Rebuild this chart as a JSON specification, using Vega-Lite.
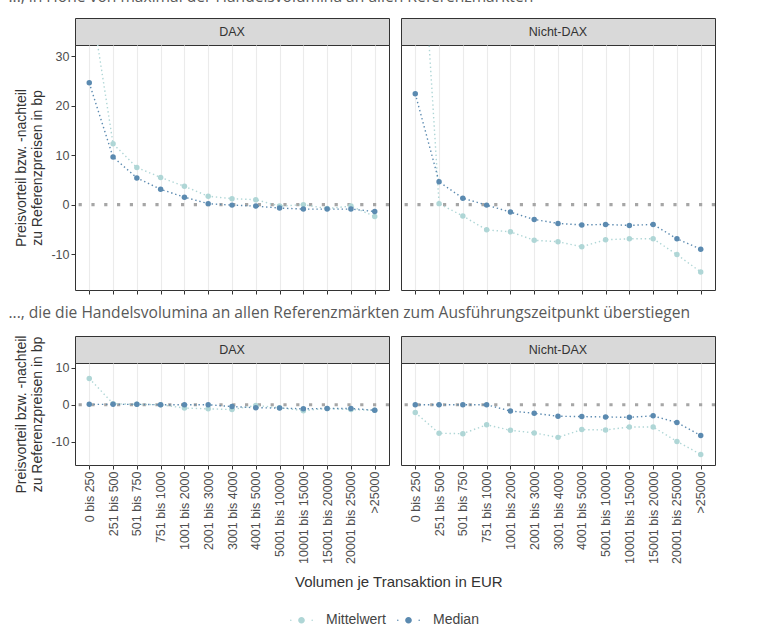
{
"$schema": "https://vega.github.io/schema/vega-lite/v6.json",
"background": "white",
"padding": {"top": -11, "left": 8, "right": 5, "bottom": 3},
"config": {
  "font": "Liberation Sans",
  "view": {"stroke": "#333333", "strokeWidth": 1},
  "axis": {"domain": false, "gridColor": "#ebebeb", "tickColor": "#333333", "tickSize": 4, "tickWidth": 1, "labelColor": "#4d4d4d", "labelFontSize": 12.5, "titleColor": "#333333", "titleFontSize": 14, "titleFontWeight": "normal", "labelPadding": 2},
  "legend": {"orient": "none", "legendX": 215, "legendY": 590.5, "direction": "horizontal", "labelFontSize": 14, "labelColor": "#444444", "symbolSize": 529, "labelOffset": 13, "columnPadding": 11, "symbolStrokeWidth": 0},
  "title": {"font": "Open Sans", "fontSize": 15.6, "fontWeight": "normal", "color": "#595959", "anchor": "start"}
},
"datasets": {"d": [
{"s":"max","g":"DAX","m":"Mittelwert","v":"0 bis 250","y":43.2},
{"s":"max","g":"DAX","m":"Mittelwert","v":"251 bis 500","y":12.3},
{"s":"max","g":"DAX","m":"Mittelwert","v":"501 bis 750","y":7.5},
{"s":"max","g":"DAX","m":"Mittelwert","v":"751 bis 1000","y":5.5},
{"s":"max","g":"DAX","m":"Mittelwert","v":"1001 bis 2000","y":3.7},
{"s":"max","g":"DAX","m":"Mittelwert","v":"2001 bis 3000","y":1.7},
{"s":"max","g":"DAX","m":"Mittelwert","v":"3001 bis 4000","y":1.2},
{"s":"max","g":"DAX","m":"Mittelwert","v":"4001 bis 5000","y":1.0},
{"s":"max","g":"DAX","m":"Mittelwert","v":"5001 bis 10000","y":-0.3},
{"s":"max","g":"DAX","m":"Mittelwert","v":"10001 bis 15000","y":0.0},
{"s":"max","g":"DAX","m":"Mittelwert","v":"15001 bis 20000","y":-0.8},
{"s":"max","g":"DAX","m":"Mittelwert","v":"20001 bis 25000","y":-0.3},
{"s":"max","g":"DAX","m":"Mittelwert","v":">25000","y":-2.4},
{"s":"max","g":"DAX","m":"Median","v":"0 bis 250","y":24.6},
{"s":"max","g":"DAX","m":"Median","v":"251 bis 500","y":9.6},
{"s":"max","g":"DAX","m":"Median","v":"501 bis 750","y":5.4},
{"s":"max","g":"DAX","m":"Median","v":"751 bis 1000","y":3.1},
{"s":"max","g":"DAX","m":"Median","v":"1001 bis 2000","y":1.5},
{"s":"max","g":"DAX","m":"Median","v":"2001 bis 3000","y":0.2},
{"s":"max","g":"DAX","m":"Median","v":"3001 bis 4000","y":-0.1},
{"s":"max","g":"DAX","m":"Median","v":"4001 bis 5000","y":-0.3},
{"s":"max","g":"DAX","m":"Median","v":"5001 bis 10000","y":-0.7},
{"s":"max","g":"DAX","m":"Median","v":"10001 bis 15000","y":-0.9},
{"s":"max","g":"DAX","m":"Median","v":"15001 bis 20000","y":-0.9},
{"s":"max","g":"DAX","m":"Median","v":"20001 bis 25000","y":-0.9},
{"s":"max","g":"DAX","m":"Median","v":">25000","y":-1.4},
{"s":"max","g":"Nicht-DAX","m":"Mittelwert","v":"0 bis 250","y":77},
{"s":"max","g":"Nicht-DAX","m":"Mittelwert","v":"251 bis 500","y":0.2},
{"s":"max","g":"Nicht-DAX","m":"Mittelwert","v":"501 bis 750","y":-2.3},
{"s":"max","g":"Nicht-DAX","m":"Mittelwert","v":"751 bis 1000","y":-5.1},
{"s":"max","g":"Nicht-DAX","m":"Mittelwert","v":"1001 bis 2000","y":-5.5},
{"s":"max","g":"Nicht-DAX","m":"Mittelwert","v":"2001 bis 3000","y":-7.2},
{"s":"max","g":"Nicht-DAX","m":"Mittelwert","v":"3001 bis 4000","y":-7.5},
{"s":"max","g":"Nicht-DAX","m":"Mittelwert","v":"4001 bis 5000","y":-8.5},
{"s":"max","g":"Nicht-DAX","m":"Mittelwert","v":"5001 bis 10000","y":-7.1},
{"s":"max","g":"Nicht-DAX","m":"Mittelwert","v":"10001 bis 15000","y":-6.9},
{"s":"max","g":"Nicht-DAX","m":"Mittelwert","v":"15001 bis 20000","y":-6.9},
{"s":"max","g":"Nicht-DAX","m":"Mittelwert","v":"20001 bis 25000","y":-10.1},
{"s":"max","g":"Nicht-DAX","m":"Mittelwert","v":">25000","y":-13.6},
{"s":"max","g":"Nicht-DAX","m":"Median","v":"0 bis 250","y":22.4},
{"s":"max","g":"Nicht-DAX","m":"Median","v":"251 bis 500","y":4.6},
{"s":"max","g":"Nicht-DAX","m":"Median","v":"501 bis 750","y":1.3},
{"s":"max","g":"Nicht-DAX","m":"Median","v":"751 bis 1000","y":-0.1},
{"s":"max","g":"Nicht-DAX","m":"Median","v":"1001 bis 2000","y":-1.5},
{"s":"max","g":"Nicht-DAX","m":"Median","v":"2001 bis 3000","y":-3.0},
{"s":"max","g":"Nicht-DAX","m":"Median","v":"3001 bis 4000","y":-3.8},
{"s":"max","g":"Nicht-DAX","m":"Median","v":"4001 bis 5000","y":-4.1},
{"s":"max","g":"Nicht-DAX","m":"Median","v":"5001 bis 10000","y":-4.0},
{"s":"max","g":"Nicht-DAX","m":"Median","v":"10001 bis 15000","y":-4.2},
{"s":"max","g":"Nicht-DAX","m":"Median","v":"15001 bis 20000","y":-4.0},
{"s":"max","g":"Nicht-DAX","m":"Median","v":"20001 bis 25000","y":-6.9},
{"s":"max","g":"Nicht-DAX","m":"Median","v":">25000","y":-9.0},
{"s":"ueber","g":"DAX","m":"Mittelwert","v":"0 bis 250","y":7.1},
{"s":"ueber","g":"DAX","m":"Mittelwert","v":"251 bis 500","y":0.3},
{"s":"ueber","g":"DAX","m":"Mittelwert","v":"501 bis 750","y":0.1},
{"s":"ueber","g":"DAX","m":"Mittelwert","v":"751 bis 1000","y":0.0},
{"s":"ueber","g":"DAX","m":"Mittelwert","v":"1001 bis 2000","y":-0.9},
{"s":"ueber","g":"DAX","m":"Mittelwert","v":"2001 bis 3000","y":-1.1},
{"s":"ueber","g":"DAX","m":"Mittelwert","v":"3001 bis 4000","y":-1.3},
{"s":"ueber","g":"DAX","m":"Mittelwert","v":"4001 bis 5000","y":-0.2},
{"s":"ueber","g":"DAX","m":"Mittelwert","v":"5001 bis 10000","y":-0.8},
{"s":"ueber","g":"DAX","m":"Mittelwert","v":"10001 bis 15000","y":-1.6},
{"s":"ueber","g":"DAX","m":"Mittelwert","v":"15001 bis 20000","y":-1.0},
{"s":"ueber","g":"DAX","m":"Mittelwert","v":"20001 bis 25000","y":-1.3},
{"s":"ueber","g":"DAX","m":"Mittelwert","v":">25000","y":-1.5},
{"s":"ueber","g":"DAX","m":"Median","v":"0 bis 250","y":0.1},
{"s":"ueber","g":"DAX","m":"Median","v":"251 bis 500","y":0.1},
{"s":"ueber","g":"DAX","m":"Median","v":"501 bis 750","y":0.1},
{"s":"ueber","g":"DAX","m":"Median","v":"751 bis 1000","y":0.0},
{"s":"ueber","g":"DAX","m":"Median","v":"1001 bis 2000","y":0.0},
{"s":"ueber","g":"DAX","m":"Median","v":"2001 bis 3000","y":0.0},
{"s":"ueber","g":"DAX","m":"Median","v":"3001 bis 4000","y":-0.5},
{"s":"ueber","g":"DAX","m":"Median","v":"4001 bis 5000","y":-0.8},
{"s":"ueber","g":"DAX","m":"Median","v":"5001 bis 10000","y":-0.9},
{"s":"ueber","g":"DAX","m":"Median","v":"10001 bis 15000","y":-1.1},
{"s":"ueber","g":"DAX","m":"Median","v":"15001 bis 20000","y":-1.0},
{"s":"ueber","g":"DAX","m":"Median","v":"20001 bis 25000","y":-1.0},
{"s":"ueber","g":"DAX","m":"Median","v":">25000","y":-1.5},
{"s":"ueber","g":"Nicht-DAX","m":"Mittelwert","v":"0 bis 250","y":-2.1},
{"s":"ueber","g":"Nicht-DAX","m":"Mittelwert","v":"251 bis 500","y":-7.7},
{"s":"ueber","g":"Nicht-DAX","m":"Mittelwert","v":"501 bis 750","y":-7.8},
{"s":"ueber","g":"Nicht-DAX","m":"Mittelwert","v":"751 bis 1000","y":-5.4},
{"s":"ueber","g":"Nicht-DAX","m":"Mittelwert","v":"1001 bis 2000","y":-6.9},
{"s":"ueber","g":"Nicht-DAX","m":"Mittelwert","v":"2001 bis 3000","y":-7.6},
{"s":"ueber","g":"Nicht-DAX","m":"Mittelwert","v":"3001 bis 4000","y":-8.8},
{"s":"ueber","g":"Nicht-DAX","m":"Mittelwert","v":"4001 bis 5000","y":-6.7},
{"s":"ueber","g":"Nicht-DAX","m":"Mittelwert","v":"5001 bis 10000","y":-6.8},
{"s":"ueber","g":"Nicht-DAX","m":"Mittelwert","v":"10001 bis 15000","y":-6.0},
{"s":"ueber","g":"Nicht-DAX","m":"Mittelwert","v":"15001 bis 20000","y":-6.0},
{"s":"ueber","g":"Nicht-DAX","m":"Mittelwert","v":"20001 bis 25000","y":-9.9},
{"s":"ueber","g":"Nicht-DAX","m":"Mittelwert","v":">25000","y":-13.4},
{"s":"ueber","g":"Nicht-DAX","m":"Median","v":"0 bis 250","y":0.0},
{"s":"ueber","g":"Nicht-DAX","m":"Median","v":"251 bis 500","y":0.0},
{"s":"ueber","g":"Nicht-DAX","m":"Median","v":"501 bis 750","y":0.0},
{"s":"ueber","g":"Nicht-DAX","m":"Median","v":"751 bis 1000","y":0.0},
{"s":"ueber","g":"Nicht-DAX","m":"Median","v":"1001 bis 2000","y":-1.7},
{"s":"ueber","g":"Nicht-DAX","m":"Median","v":"2001 bis 3000","y":-2.3},
{"s":"ueber","g":"Nicht-DAX","m":"Median","v":"3001 bis 4000","y":-3.1},
{"s":"ueber","g":"Nicht-DAX","m":"Median","v":"4001 bis 5000","y":-3.2},
{"s":"ueber","g":"Nicht-DAX","m":"Median","v":"5001 bis 10000","y":-3.3},
{"s":"ueber","g":"Nicht-DAX","m":"Median","v":"10001 bis 15000","y":-3.4},
{"s":"ueber","g":"Nicht-DAX","m":"Median","v":"15001 bis 20000","y":-3.0},
{"s":"ueber","g":"Nicht-DAX","m":"Median","v":"20001 bis 25000","y":-4.8},
{"s":"ueber","g":"Nicht-DAX","m":"Median","v":">25000","y":-8.3}
]},
"spacing": 10,
"vconcat": [
 {
  "title": {"text": "..., in Höhe von maximal der Handelsvolumina an allen Referenzmärkten", "dx": -6, "offset": 12},
  "spacing": 6,
  "hconcat": [
   {"spacing": 0, "bounds": "flush", "vconcat": [
     {"width": 314, "height": 27, "data": {"values": [{"p": "DAX"}]}, "view": {"fill": "#d9d9d9", "stroke": "#333333"},
      "mark": {"type": "text", "fontSize": 12.5, "color": "#333333"}, "encoding": {"text": {"field": "p"}}},
     {"width": 314, "height": 245, "data": {"name": "d"}, "transform": [{"filter": "datum.s === 'max' && datum.g === 'DAX'"}],
      "layer": [
       {"data": {"values": [{}]}, "mark": {"type": "rule", "color": "#a6a6a6", "strokeWidth": 3.2, "strokeDash": [3.2, 9.6]},
        "encoding": {"y": {"datum": 0, "type": "quantitative", "scale": {"domain": [-17.25, 32.25], "nice": false, "zero": false},
          "axis": {"title": ["Preisvorteil bzw. -nachteil", "zu Referenzpreisen in bp"], "values": [-15,-10,-5,0,5,10,15,20,25,30], "labelExpr": "datum.value % 10 === 0 ? '' + datum.value : ''", "tickOpacity": {"condition": {"test": "datum.value % 10 === 0", "value": 1}, "value": 0}, "gridWidth": {"condition": {"test": "datum.value % 10 === 0", "value": 1.1}, "value": 0.55}, "titlePadding": 6}}}},
       {"transform": [{"filter": "datum.m === 'Mittelwert'"}], "mark": {"type": "line", "color": "#afd6d6", "strokeWidth": 1.4, "strokeDash": [1.4, 2.8], "clip": true},
        "encoding": {
         "x": {"field": "v", "type": "ordinal", "sort": ["0 bis 250","251 bis 500","501 bis 750","751 bis 1000","1001 bis 2000","2001 bis 3000","3001 bis 4000","4001 bis 5000","5001 bis 10000","10001 bis 15000","15001 bis 20000","20001 bis 25000",">25000"], "scale": {"type": "point", "padding": 0.6}, "axis": {"title": null, "labels": false, "grid": true, "gridWidth": 1.1}},
         "y": {"field": "y", "type": "quantitative", "scale": {"domain": [-17.25, 32.25], "nice": false, "zero": false},
          "axis": {"title": ["Preisvorteil bzw. -nachteil", "zu Referenzpreisen in bp"], "values": [-15,-10,-5,0,5,10,15,20,25,30], "labelExpr": "datum.value % 10 === 0 ? '' + datum.value : ''", "tickOpacity": {"condition": {"test": "datum.value % 10 === 0", "value": 1}, "value": 0}, "gridWidth": {"condition": {"test": "datum.value % 10 === 0", "value": 1.1}, "value": 0.55}, "titlePadding": 6}}}},
       {"transform": [{"filter": "datum.m === 'Median'"}], "mark": {"type": "line", "color": "#5b8ab0", "strokeWidth": 1.4, "strokeDash": [1.4, 2.8], "clip": true},
        "encoding": {
         "x": {"field": "v", "type": "ordinal", "sort": ["0 bis 250","251 bis 500","501 bis 750","751 bis 1000","1001 bis 2000","2001 bis 3000","3001 bis 4000","4001 bis 5000","5001 bis 10000","10001 bis 15000","15001 bis 20000","20001 bis 25000",">25000"], "scale": {"type": "point", "padding": 0.6}, "axis": {"title": null, "labels": false, "grid": true, "gridWidth": 1.1}},
         "y": {"field": "y", "type": "quantitative", "scale": {"domain": [-17.25, 32.25], "nice": false, "zero": false},
          "axis": {"title": ["Preisvorteil bzw. -nachteil", "zu Referenzpreisen in bp"], "values": [-15,-10,-5,0,5,10,15,20,25,30], "labelExpr": "datum.value % 10 === 0 ? '' + datum.value : ''", "tickOpacity": {"condition": {"test": "datum.value % 10 === 0", "value": 1}, "value": 0}, "gridWidth": {"condition": {"test": "datum.value % 10 === 0", "value": 1.1}, "value": 0.55}, "titlePadding": 6}}}},
       {"mark": {"type": "circle", "size": 30, "opacity": 1, "clip": true},
        "encoding": {
         "x": {"field": "v", "type": "ordinal", "sort": ["0 bis 250","251 bis 500","501 bis 750","751 bis 1000","1001 bis 2000","2001 bis 3000","3001 bis 4000","4001 bis 5000","5001 bis 10000","10001 bis 15000","15001 bis 20000","20001 bis 25000",">25000"], "scale": {"type": "point", "padding": 0.6}, "axis": {"title": null, "labels": false, "grid": true, "gridWidth": 1.1}},
         "y": {"field": "y", "type": "quantitative", "scale": {"domain": [-17.25, 32.25], "nice": false, "zero": false},
          "axis": {"title": ["Preisvorteil bzw. -nachteil", "zu Referenzpreisen in bp"], "values": [-15,-10,-5,0,5,10,15,20,25,30], "labelExpr": "datum.value % 10 === 0 ? '' + datum.value : ''", "tickOpacity": {"condition": {"test": "datum.value % 10 === 0", "value": 1}, "value": 0}, "gridWidth": {"condition": {"test": "datum.value % 10 === 0", "value": 1.1}, "value": 0.55}, "titlePadding": 6}},
         "color": {"field": "m", "type": "nominal", "scale": {"domain": ["Mittelwert", "Median"], "range": ["#afd6d6", "#5b8ab0"]}, "legend": {"title": null, "symbolType": "M-0.29,0A0.29,0.29,0,1,1,0.29,0A0.29,0.29,0,1,1,-0.29,0ZM-1,0A0.07,0.07,0,1,1,-0.86,0A0.07,0.07,0,1,1,-1,0ZM0.86,0A0.07,0.07,0,1,1,1,0A0.07,0.07,0,1,1,0.86,0Z"}}}}
      ]}
   ]},
   {"spacing": 0, "bounds": "flush", "vconcat": [
     {"width": 314, "height": 27, "data": {"values": [{"p": "Nicht-DAX"}]}, "view": {"fill": "#d9d9d9", "stroke": "#333333"},
      "mark": {"type": "text", "fontSize": 12.5, "color": "#333333"}, "encoding": {"text": {"field": "p"}}},
     {"width": 314, "height": 245, "data": {"name": "d"}, "transform": [{"filter": "datum.s === 'max' && datum.g === 'Nicht-DAX'"}],
      "layer": [
       {"data": {"values": [{}]}, "mark": {"type": "rule", "color": "#a6a6a6", "strokeWidth": 3.2, "strokeDash": [3.2, 9.6]},
        "encoding": {"y": {"datum": 0, "type": "quantitative", "scale": {"domain": [-17.25, 32.25], "nice": false, "zero": false},
          "axis": {"title": null, "labels": false, "ticks": false, "values": [-15,-10,-5,0,5,10,15,20,25,30], "gridWidth": {"condition": {"test": "datum.value % 10 === 0", "value": 1.1}, "value": 0.55}}}}},
       {"transform": [{"filter": "datum.m === 'Mittelwert'"}], "mark": {"type": "line", "color": "#afd6d6", "strokeWidth": 1.4, "strokeDash": [1.4, 2.8], "clip": true},
        "encoding": {
         "x": {"field": "v", "type": "ordinal", "sort": ["0 bis 250","251 bis 500","501 bis 750","751 bis 1000","1001 bis 2000","2001 bis 3000","3001 bis 4000","4001 bis 5000","5001 bis 10000","10001 bis 15000","15001 bis 20000","20001 bis 25000",">25000"], "scale": {"type": "point", "padding": 0.6}, "axis": {"title": null, "labels": false, "grid": true, "gridWidth": 1.1}},
         "y": {"field": "y", "type": "quantitative", "scale": {"domain": [-17.25, 32.25], "nice": false, "zero": false},
          "axis": {"title": null, "labels": false, "ticks": false, "values": [-15,-10,-5,0,5,10,15,20,25,30], "gridWidth": {"condition": {"test": "datum.value % 10 === 0", "value": 1.1}, "value": 0.55}}}}},
       {"transform": [{"filter": "datum.m === 'Median'"}], "mark": {"type": "line", "color": "#5b8ab0", "strokeWidth": 1.4, "strokeDash": [1.4, 2.8], "clip": true},
        "encoding": {
         "x": {"field": "v", "type": "ordinal", "sort": ["0 bis 250","251 bis 500","501 bis 750","751 bis 1000","1001 bis 2000","2001 bis 3000","3001 bis 4000","4001 bis 5000","5001 bis 10000","10001 bis 15000","15001 bis 20000","20001 bis 25000",">25000"], "scale": {"type": "point", "padding": 0.6}, "axis": {"title": null, "labels": false, "grid": true, "gridWidth": 1.1}},
         "y": {"field": "y", "type": "quantitative", "scale": {"domain": [-17.25, 32.25], "nice": false, "zero": false},
          "axis": {"title": null, "labels": false, "ticks": false, "values": [-15,-10,-5,0,5,10,15,20,25,30], "gridWidth": {"condition": {"test": "datum.value % 10 === 0", "value": 1.1}, "value": 0.55}}}}},
       {"mark": {"type": "circle", "size": 30, "opacity": 1, "clip": true},
        "encoding": {
         "x": {"field": "v", "type": "ordinal", "sort": ["0 bis 250","251 bis 500","501 bis 750","751 bis 1000","1001 bis 2000","2001 bis 3000","3001 bis 4000","4001 bis 5000","5001 bis 10000","10001 bis 15000","15001 bis 20000","20001 bis 25000",">25000"], "scale": {"type": "point", "padding": 0.6}, "axis": {"title": null, "labels": false, "grid": true, "gridWidth": 1.1}},
         "y": {"field": "y", "type": "quantitative", "scale": {"domain": [-17.25, 32.25], "nice": false, "zero": false},
          "axis": {"title": null, "labels": false, "ticks": false, "values": [-15,-10,-5,0,5,10,15,20,25,30], "gridWidth": {"condition": {"test": "datum.value % 10 === 0", "value": 1.1}, "value": 0.55}}},
         "color": {"field": "m", "type": "nominal", "scale": {"domain": ["Mittelwert", "Median"], "range": ["#afd6d6", "#5b8ab0"]}, "legend": {"title": null, "symbolType": "M-0.29,0A0.29,0.29,0,1,1,0.29,0A0.29,0.29,0,1,1,-0.29,0ZM-1,0A0.07,0.07,0,1,1,-0.86,0A0.07,0.07,0,1,1,-1,0ZM0.86,0A0.07,0.07,0,1,1,1,0A0.07,0.07,0,1,1,0.86,0Z"}}}}
      ]}
   ]}
  ]
 },
 {
  "title": {"text": "..., die die Handelsvolumina an allen Referenzmärkten zum Ausführungszeitpunkt überstiegen", "dx": -6, "offset": 13},
  "vconcat": [
   {
    "title": {"text": "Volumen je Transaktion in EUR", "orient": "bottom", "anchor": "middle", "frame": "bounds", "font": "Liberation Sans", "fontSize": 15, "color": "#333333", "offset": 11, "dx": 33},
    "spacing": 6,
    "hconcat": [
     {"spacing": 0, "bounds": "flush", "vconcat": [
       {"width": 314, "height": 27, "data": {"values": [{"p": "DAX"}]}, "view": {"fill": "#d9d9d9", "stroke": "#333333"},
        "mark": {"type": "text", "fontSize": 12.5, "color": "#333333"}, "encoding": {"text": {"field": "p"}}},
       {"width": 314, "height": 102, "data": {"name": "d"}, "transform": [{"filter": "datum.s === 'ueber' && datum.g === 'DAX'"}],
        "layer": [
         {"data": {"values": [{}]}, "mark": {"type": "rule", "color": "#a6a6a6", "strokeWidth": 3.2, "strokeDash": [3.2, 9.6]},
          "encoding": {"y": {"datum": 0, "type": "quantitative", "scale": {"domain": [-16.25, 11.25], "nice": false, "zero": false},
            "axis": {"title": ["Preisvorteil bzw. -nachteil", "zu Referenzpreisen in bp"], "values": [-15,-10,-5,0,5,10], "labelExpr": "datum.value % 10 === 0 ? '' + datum.value : ''", "tickOpacity": {"condition": {"test": "datum.value % 10 === 0", "value": 1}, "value": 0}, "gridWidth": {"condition": {"test": "datum.value % 10 === 0", "value": 1.1}, "value": 0.55}, "titlePadding": 6}}}},
         {"transform": [{"filter": "datum.m === 'Mittelwert'"}], "mark": {"type": "line", "color": "#afd6d6", "strokeWidth": 1.4, "strokeDash": [1.4, 2.8], "clip": true},
          "encoding": {
           "x": {"field": "v", "type": "ordinal", "sort": ["0 bis 250","251 bis 500","501 bis 750","751 bis 1000","1001 bis 2000","2001 bis 3000","3001 bis 4000","4001 bis 5000","5001 bis 10000","10001 bis 15000","15001 bis 20000","20001 bis 25000",">25000"], "scale": {"type": "point", "padding": 0.6}, "axis": {"title": null, "labelAngle": 270, "grid": true, "gridWidth": 1.1}},
           "y": {"field": "y", "type": "quantitative", "scale": {"domain": [-16.25, 11.25], "nice": false, "zero": false},
            "axis": {"title": ["Preisvorteil bzw. -nachteil", "zu Referenzpreisen in bp"], "values": [-15,-10,-5,0,5,10], "labelExpr": "datum.value % 10 === 0 ? '' + datum.value : ''", "tickOpacity": {"condition": {"test": "datum.value % 10 === 0", "value": 1}, "value": 0}, "gridWidth": {"condition": {"test": "datum.value % 10 === 0", "value": 1.1}, "value": 0.55}, "titlePadding": 6}}}},
         {"transform": [{"filter": "datum.m === 'Median'"}], "mark": {"type": "line", "color": "#5b8ab0", "strokeWidth": 1.4, "strokeDash": [1.4, 2.8], "clip": true},
          "encoding": {
           "x": {"field": "v", "type": "ordinal", "sort": ["0 bis 250","251 bis 500","501 bis 750","751 bis 1000","1001 bis 2000","2001 bis 3000","3001 bis 4000","4001 bis 5000","5001 bis 10000","10001 bis 15000","15001 bis 20000","20001 bis 25000",">25000"], "scale": {"type": "point", "padding": 0.6}, "axis": {"title": null, "labelAngle": 270, "grid": true, "gridWidth": 1.1}},
           "y": {"field": "y", "type": "quantitative", "scale": {"domain": [-16.25, 11.25], "nice": false, "zero": false},
            "axis": {"title": ["Preisvorteil bzw. -nachteil", "zu Referenzpreisen in bp"], "values": [-15,-10,-5,0,5,10], "labelExpr": "datum.value % 10 === 0 ? '' + datum.value : ''", "tickOpacity": {"condition": {"test": "datum.value % 10 === 0", "value": 1}, "value": 0}, "gridWidth": {"condition": {"test": "datum.value % 10 === 0", "value": 1.1}, "value": 0.55}, "titlePadding": 6}}}},
         {"mark": {"type": "circle", "size": 30, "opacity": 1, "clip": true},
          "encoding": {
           "x": {"field": "v", "type": "ordinal", "sort": ["0 bis 250","251 bis 500","501 bis 750","751 bis 1000","1001 bis 2000","2001 bis 3000","3001 bis 4000","4001 bis 5000","5001 bis 10000","10001 bis 15000","15001 bis 20000","20001 bis 25000",">25000"], "scale": {"type": "point", "padding": 0.6}, "axis": {"title": null, "labelAngle": 270, "grid": true, "gridWidth": 1.1}},
           "y": {"field": "y", "type": "quantitative", "scale": {"domain": [-16.25, 11.25], "nice": false, "zero": false},
            "axis": {"title": ["Preisvorteil bzw. -nachteil", "zu Referenzpreisen in bp"], "values": [-15,-10,-5,0,5,10], "labelExpr": "datum.value % 10 === 0 ? '' + datum.value : ''", "tickOpacity": {"condition": {"test": "datum.value % 10 === 0", "value": 1}, "value": 0}, "gridWidth": {"condition": {"test": "datum.value % 10 === 0", "value": 1.1}, "value": 0.55}, "titlePadding": 6}},
           "color": {"field": "m", "type": "nominal", "scale": {"domain": ["Mittelwert", "Median"], "range": ["#afd6d6", "#5b8ab0"]}, "legend": {"title": null, "symbolType": "M-0.29,0A0.29,0.29,0,1,1,0.29,0A0.29,0.29,0,1,1,-0.29,0ZM-1,0A0.07,0.07,0,1,1,-0.86,0A0.07,0.07,0,1,1,-1,0ZM0.86,0A0.07,0.07,0,1,1,1,0A0.07,0.07,0,1,1,0.86,0Z"}}}}
        ]}
     ]},
     {"spacing": 0, "bounds": "flush", "vconcat": [
       {"width": 314, "height": 27, "data": {"values": [{"p": "Nicht-DAX"}]}, "view": {"fill": "#d9d9d9", "stroke": "#333333"},
        "mark": {"type": "text", "fontSize": 12.5, "color": "#333333"}, "encoding": {"text": {"field": "p"}}},
       {"width": 314, "height": 102, "data": {"name": "d"}, "transform": [{"filter": "datum.s === 'ueber' && datum.g === 'Nicht-DAX'"}],
        "layer": [
         {"data": {"values": [{}]}, "mark": {"type": "rule", "color": "#a6a6a6", "strokeWidth": 3.2, "strokeDash": [3.2, 9.6]},
          "encoding": {"y": {"datum": 0, "type": "quantitative", "scale": {"domain": [-16.25, 11.25], "nice": false, "zero": false},
            "axis": {"title": null, "labels": false, "ticks": false, "values": [-15,-10,-5,0,5,10], "gridWidth": {"condition": {"test": "datum.value % 10 === 0", "value": 1.1}, "value": 0.55}}}}},
         {"transform": [{"filter": "datum.m === 'Mittelwert'"}], "mark": {"type": "line", "color": "#afd6d6", "strokeWidth": 1.4, "strokeDash": [1.4, 2.8], "clip": true},
          "encoding": {
           "x": {"field": "v", "type": "ordinal", "sort": ["0 bis 250","251 bis 500","501 bis 750","751 bis 1000","1001 bis 2000","2001 bis 3000","3001 bis 4000","4001 bis 5000","5001 bis 10000","10001 bis 15000","15001 bis 20000","20001 bis 25000",">25000"], "scale": {"type": "point", "padding": 0.6}, "axis": {"title": null, "labelAngle": 270, "grid": true, "gridWidth": 1.1}},
           "y": {"field": "y", "type": "quantitative", "scale": {"domain": [-16.25, 11.25], "nice": false, "zero": false},
            "axis": {"title": null, "labels": false, "ticks": false, "values": [-15,-10,-5,0,5,10], "gridWidth": {"condition": {"test": "datum.value % 10 === 0", "value": 1.1}, "value": 0.55}}}}},
         {"transform": [{"filter": "datum.m === 'Median'"}], "mark": {"type": "line", "color": "#5b8ab0", "strokeWidth": 1.4, "strokeDash": [1.4, 2.8], "clip": true},
          "encoding": {
           "x": {"field": "v", "type": "ordinal", "sort": ["0 bis 250","251 bis 500","501 bis 750","751 bis 1000","1001 bis 2000","2001 bis 3000","3001 bis 4000","4001 bis 5000","5001 bis 10000","10001 bis 15000","15001 bis 20000","20001 bis 25000",">25000"], "scale": {"type": "point", "padding": 0.6}, "axis": {"title": null, "labelAngle": 270, "grid": true, "gridWidth": 1.1}},
           "y": {"field": "y", "type": "quantitative", "scale": {"domain": [-16.25, 11.25], "nice": false, "zero": false},
            "axis": {"title": null, "labels": false, "ticks": false, "values": [-15,-10,-5,0,5,10], "gridWidth": {"condition": {"test": "datum.value % 10 === 0", "value": 1.1}, "value": 0.55}}}}},
         {"mark": {"type": "circle", "size": 30, "opacity": 1, "clip": true},
          "encoding": {
           "x": {"field": "v", "type": "ordinal", "sort": ["0 bis 250","251 bis 500","501 bis 750","751 bis 1000","1001 bis 2000","2001 bis 3000","3001 bis 4000","4001 bis 5000","5001 bis 10000","10001 bis 15000","15001 bis 20000","20001 bis 25000",">25000"], "scale": {"type": "point", "padding": 0.6}, "axis": {"title": null, "labelAngle": 270, "grid": true, "gridWidth": 1.1}},
           "y": {"field": "y", "type": "quantitative", "scale": {"domain": [-16.25, 11.25], "nice": false, "zero": false},
            "axis": {"title": null, "labels": false, "ticks": false, "values": [-15,-10,-5,0,5,10], "gridWidth": {"condition": {"test": "datum.value % 10 === 0", "value": 1.1}, "value": 0.55}}},
           "color": {"field": "m", "type": "nominal", "scale": {"domain": ["Mittelwert", "Median"], "range": ["#afd6d6", "#5b8ab0"]}, "legend": {"title": null, "symbolType": "M-0.29,0A0.29,0.29,0,1,1,0.29,0A0.29,0.29,0,1,1,-0.29,0ZM-1,0A0.07,0.07,0,1,1,-0.86,0A0.07,0.07,0,1,1,-1,0ZM0.86,0A0.07,0.07,0,1,1,1,0A0.07,0.07,0,1,1,0.86,0Z"}}}}
        ]}
     ]}
    ]
   }
  ]
 }
]
}
